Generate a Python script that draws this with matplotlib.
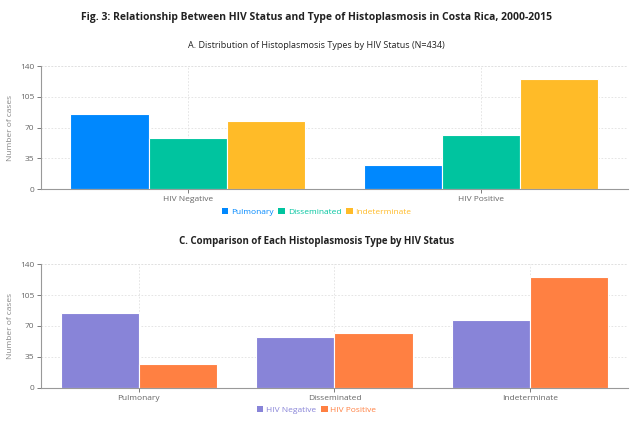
import numpy as np
import matplotlib.pyplot as plt
from matplotlib.patches import Patch

# data
statuses = ["HIV Negative", "HIV Positive"]
types = ["Pulmonary", "Disseminated", "Indeterminate"]
pulmonary = [85, 27]
disseminated = [58, 62]
indeterminate = [77, 125]
hiv_negative = [85, 58, 77]
hiv_positive = [27, 62, 125]

type_colors = ["#0088FE", "#00C49F", "#FFBB28"]
hiv_colors = ["#8884D8", "#FF8042"]
yticks = [0, 35, 70, 105, 140]

plt.rcParams["font.family"] = ["Open Sans", "DejaVu Sans"]
gray = "#666666"

fig = plt.figure(figsize=(6.33, 4.26), dpi=100)
fig.text(0.5, 0.958, "Fig. 3: Relationship Between HIV Status and Type of Histoplasmosis in Costa Rica, 2000-2015",
         ha="center", va="center", fontsize=7.5, fontweight="bold", color="#222222")


def style_axes(ax, labels):
    ax.set_ylim(0, 140)
    ax.set_yticks(yticks)
    ax.set_xticks(np.arange(len(labels)))
    ax.set_xticklabels(labels)
    ax.set_xlim(-0.5, len(labels) - 0.5)
    ax.tick_params(colors=gray, labelsize=6, length=3, width=0.6, pad=2)
    for s in ["top", "right"]:
        ax.spines[s].set_visible(False)
    for s in ["left", "bottom"]:
        ax.spines[s].set_color("#999999")
        ax.spines[s].set_linewidth(0.8)
    ax.grid(True, color="#e0e0e0", linestyle=(0, (2, 2)), linewidth=0.6)
    ax.axhline(140, color="#e0e0e0", linestyle=(0, (2, 2)), linewidth=0.6)
    ax.axvline(len(labels) - 0.5, color="#e0e0e0", linestyle=(0, (2, 2)), linewidth=0.6)
    ax.set_axisbelow(True)
    ax.set_ylabel("Number of cases", fontsize=6, color="#888888", labelpad=4)


def add_legend(ax, names, colors, y):
    handles = [Patch(facecolor=c, label=n) for n, c in zip(names, colors)]
    leg = ax.legend(handles=handles, loc="center", bbox_to_anchor=(0.5, y),
                    bbox_transform=fig.transFigure, ncol=len(names), frameon=False,
                    fontsize=6, handlelength=0.8, handleheight=0.8, handletextpad=0.3,
                    columnspacing=0.6, labelcolor=colors)
    return leg


# A: grouped by HIV status
ax1 = fig.add_axes([0.0648, 0.556, 0.927, 0.289])
x = np.arange(len(statuses))
w = 0.8 / 3
for i, (vals, c) in enumerate(zip([pulmonary, disseminated, indeterminate], type_colors)):
    ax1.bar(x + (i - 1) * w, vals, w, color=c, edgecolor="white", linewidth=0.8)
style_axes(ax1, statuses)
fig.text(0.5, 0.894, "A. Distribution of Histoplasmosis Types by HIV Status (N=434)",
         ha="center", va="center", fontsize=6.5, color="#222222")
add_legend(ax1, types, type_colors, 0.502)

# C: grouped by type
ax2 = fig.add_axes([0.0648, 0.0899, 0.927, 0.290])
x = np.arange(len(types))
w = 0.8 / 2
for i, (vals, c) in enumerate(zip([hiv_negative, hiv_positive], hiv_colors)):
    ax2.bar(x + (i - 0.5) * w, vals, w, color=c, edgecolor="white", linewidth=0.8)
style_axes(ax2, types)
fig.text(0.5, 0.434, "C. Comparison of Each Histoplasmosis Type by HIV Status",
         ha="center", va="center", fontsize=7, fontweight="bold", color="#222222")
add_legend(ax2, statuses, hiv_colors, 0.038)

fig.savefig("out.png", dpi=100)
